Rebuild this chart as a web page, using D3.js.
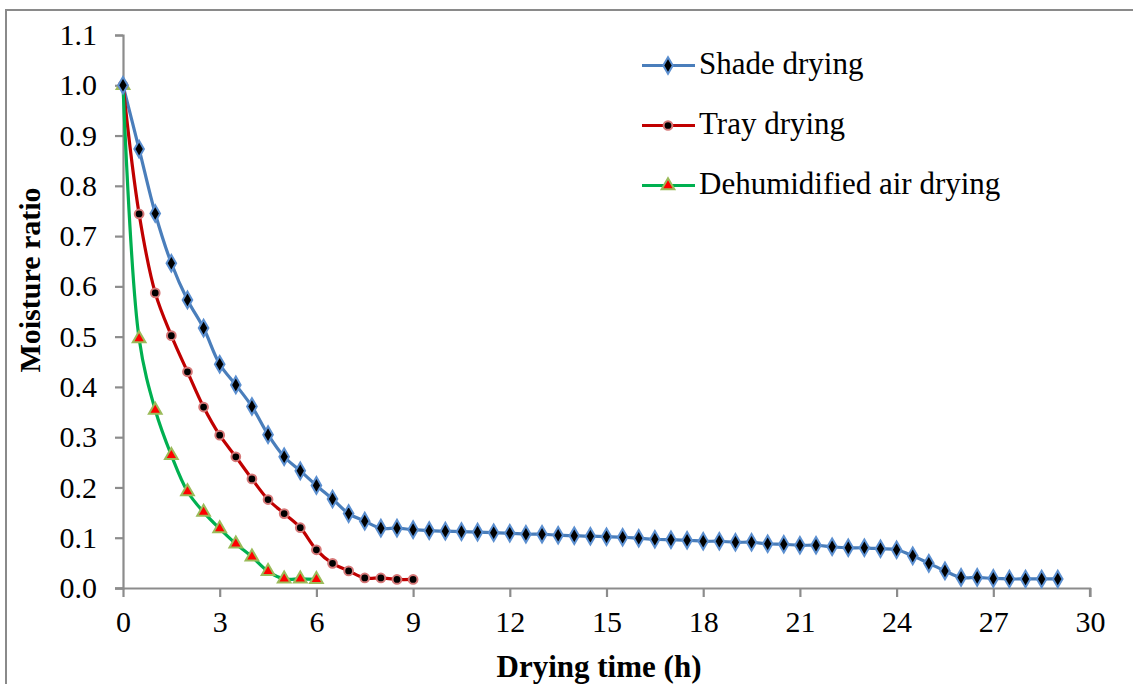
<!DOCTYPE html>
<html><head><meta charset="utf-8">
<script src="https://cdn.jsdelivr.net/npm/d3@7"></script>
</head><body style="margin:0;background:#fff"><svg id="c" width="1133" height="684" style="display:block"></svg>
<script>
const seriesNames = ["Shade drying", "Tray drying", "Dehumidified air drying"];
const shadeTime = d3.range(0, 29.01, 0.5);
const shadeMR = [1.000,0.873,0.745,0.646,0.573,0.517,0.445,0.404,0.361,0.305,0.261,0.233,0.204,0.177,0.148,0.133,0.119,0.119,0.116,0.114,0.113,0.112,0.111,0.110,0.109,0.107,0.107,0.105,0.104,0.103,0.102,0.101,0.099,0.097,0.096,0.095,0.093,0.093,0.091,0.091,0.088,0.087,0.085,0.085,0.082,0.080,0.080,0.078,0.076,0.064,0.049,0.034,0.021,0.021,0.019,0.018,0.018,0.018,0.018];
const trayTime = d3.range(0, 9.01, 0.5);
const trayMR = [1.000,0.744,0.587,0.502,0.430,0.360,0.304,0.261,0.217,0.176,0.148,0.120,0.076,0.049,0.034,0.020,0.020,0.017,0.017];
const dehumTime = d3.range(0, 6.01, 0.5);
const dehumMR = [1.000,0.496,0.354,0.264,0.192,0.151,0.118,0.088,0.062,0.033,0.018,0.018,0.017];
const xTicks = [0,3,6,9,12,15,18,21,24,27,30];
const yTicks = [0,0.1,0.2,0.3,0.4,0.5,0.6,0.7,0.8,0.9,1.0,1.1];

const FONT = "'Liberation Serif', 'Times New Roman', serif";
const svg = d3.select("#c");
const x = d3.scaleLinear().domain([0,30]).range([123,1090]);
const y = d3.scaleLinear().domain([0,1.1]).range([588,35]);

// outer frame
svg.append("rect").attr("x",6).attr("y",10).attr("width",1140).attr("height",700)
  .attr("fill","none").attr("stroke","#8a8a8a").attr("stroke-width",2);

const axCol = "#8c8c8c";
const gx = svg.append("g").attr("transform","translate(0,588)")
  .call(d3.axisBottom(x).tickValues(xTicks).tickSize(9).tickPadding(14).tickFormat(d3.format("d")));
const gy = svg.append("g").attr("transform","translate(123,0)")
  .call(d3.axisLeft(y).tickValues(yTicks).tickSize(8).tickPadding(18).tickFormat(d3.format(".1f")));
[gx,gy].forEach(g=>{
  g.attr("font-family",FONT).style("font-family",FONT);
  g.select(".domain").attr("stroke",axCol).attr("stroke-width",2.2);
  g.selectAll(".tick line").attr("stroke",axCol).attr("stroke-width",2.2);
  g.selectAll(".tick text").attr("font-size",30).attr("fill","#000")
    .attr("font-family",FONT).style("font-family",FONT);
});
gx.select(".domain").attr("d","M115,0.5H1090V9");

svg.append("text").attr("x",599).attr("y",677).attr("text-anchor","middle")
  .attr("font-family",FONT).style("font-family",FONT)
  .attr("font-size",31).attr("font-weight","bold").text("Drying time (h)");
svg.append("text").attr("transform","translate(40,280) rotate(-90)").attr("text-anchor","middle")
  .attr("font-family",FONT).style("font-family",FONT)
  .attr("font-size",30).attr("font-weight","bold").text("Moisture ratio");

const series = [
  {name:seriesNames[0], t:shadeTime, v:shadeMR, color:"#4a7ebb", mk:d3.symbolDiamond, size:80, fill:"#000", stroke:"#5b8fd0"},
  {name:seriesNames[1], t:trayTime, v:trayMR, color:"#c00000", mk:d3.symbolCircle, size:60, fill:"#000", stroke:"#d67878"},
  {name:seriesNames[2], t:dehumTime, v:dehumMR, color:"#00b050", mk:d3.symbolTriangle, size:70, fill:"#ff0000", stroke:"#9bbb59"}
];
const line = d3.line().x(d=>x(d[0])).y(d=>y(d[1])).curve(d3.curveCatmullRom.alpha(0.5));
series.forEach(s=>{
  const pts = s.t.map((t,i)=>[t,s.v[i]]);
  svg.append("path").datum(pts).attr("d",line).attr("fill","none")
    .attr("stroke",s.color).attr("stroke-width",3.2).attr("stroke-linejoin","round");
});
series.slice().reverse().forEach(s=>{
  const pts = s.t.map((t,i)=>[t,s.v[i]]);
  svg.append("g").selectAll("path").data(pts).join("path")
    .attr("transform",d=>`translate(${x(d[0])},${y(d[1])})`)
    .attr("d",d3.symbol().type(s.mk).size(s.size))
    .attr("fill",s.fill).attr("stroke",s.stroke).attr("stroke-width",2);
});

// legend
const lg = svg.append("g");
series.forEach((s,i)=>{
  const ly = 65.5 + i*60;
  lg.append("line").attr("x1",642).attr("x2",695).attr("y1",ly).attr("y2",ly)
    .attr("stroke",s.color).attr("stroke-width",3.2);
  lg.append("path").attr("transform",`translate(668,${ly})`)
    .attr("d",d3.symbol().type(s.mk).size(s.size)).attr("fill",s.fill).attr("stroke",s.stroke).attr("stroke-width",2);
  lg.append("text").attr("x",699).attr("y",ly+8.5).attr("font-size",31)
    .attr("font-family",FONT).style("font-family",FONT).attr("fill","#000").text(s.name);
});
</script></body></html>
